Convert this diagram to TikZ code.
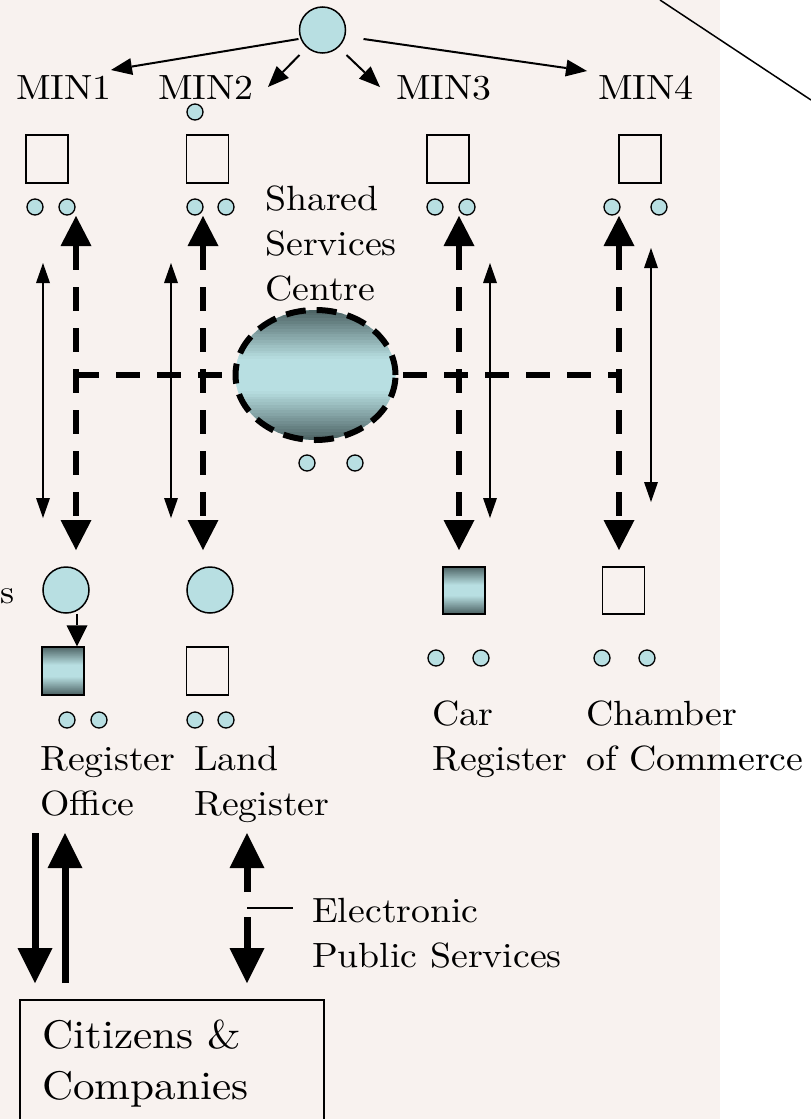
\documentclass[tikz,border=0pt]{standalone}
\usepackage{fontspec}
% the 10pt design of Latin Modern, sturdier at large sizes, set a little wider
\setmainfont{lmroman10-regular.otf}[FakeStretch=1.08]
\usetikzlibrary{arrows.meta,shapes.geometric,calc}

\definecolor{bgpink}{HTML}{F8F2EF}
\definecolor{cyanfill}{HTML}{B8DFE2}
\definecolor{slate}{HTML}{4B6162}

% two stacked lines, baseline on the first one
\newcommand\twolines[2]{\begin{tabular}[t]{@{}l@{}}#1\\#2\end{tabular}}

\begin{document}
\begin{tikzpicture}[x=1pt,y=-1pt,
  lbl/.style={anchor=base west,inner sep=0pt,font=\fontsize{35}{45}\selectfont},
  biglbl/.style={anchor=base west,inner sep=0pt,font=\fontsize{40}{51}\selectfont},
  dot/.style={circle,draw,line width=1.3pt,fill=cyanfill,minimum size=16pt,inner sep=0pt},
  roundnode/.style={circle,draw,line width=1.5pt,fill=cyanfill,minimum size=46pt,inner sep=0pt},
  plainbox/.style={rectangle,draw,line width=1.5pt,minimum width=42pt,minimum height=48pt,inner sep=0pt},
  % dark top and bottom edges around a broad light band, built from thin strips
  slatefill/.style={fill=cyanfill,path picture={
    \foreach \i in {0,...,47} {
      \pgfmathtruncatemacro\mixp{max(0,100*(1-((\i+0.5)/48)/0.38),100*(((\i+0.5)/48)-0.62)/0.38)}
      \fill[slate!\mixp!cyanfill]
        ($(path picture bounding box.north west)!{\i/48}!(path picture bounding box.south west)$)
        rectangle
        ($(path picture bounding box.north east)!{(\i+1.3)/48}!(path picture bounding box.south east)$);
    }}},
  shadedbox/.style={plainbox,slatefill},
  dashflow/.style={line width=6pt,dash pattern=on 24pt off 17pt,
    {Triangle[length=30pt,width=31pt,line width=0pt]}-{Triangle[length=30pt,width=31pt,line width=0pt]}},
  thinflow/.style={line width=1.5pt,
    {Triangle[length=20pt,width=14pt,line width=0pt]}-{Triangle[length=20pt,width=14pt,line width=0pt]}},
  toparrow/.style={line width=2pt,-{Triangle[length=21pt,width=17pt,line width=0pt]}},
  citizenflow/.style={line width=7pt,-{Triangle[length=35pt,width=35pt,line width=0pt]}},
]
\useasboundingbox (0,0) rectangle (811,1119);
\fill[bgpink] (0,0) rectangle (720,1119);

% stray line at the top right
\coordinate (diagA) at (660,0);
\coordinate (diagB) at (811,100);
\draw[line width=1.5pt] (diagA) -- (diagB);

% ministry at the top
\node[roundnode] (top) at (322.5,30) {};
\node[lbl] (min1) at (16,99) {MIN1};
\node[lbl] (min2) at (158,99) {MIN2};
\node[lbl] (min3) at (396,99) {MIN3};
\node[lbl] (min4) at (598,99) {MIN4};

\coordinate (t1) at (111,70);
\coordinate (t2) at (268,87);
\coordinate (t3) at (380,87);
\coordinate (t4) at (587,71);
\draw[toparrow] ([shift={(-24,9)}]top.center) -- (t1);
\draw[toparrow] ([shift={(-23,25)}]top.center) -- (t2);
\draw[toparrow] ([shift={(24,25)}]top.center) -- (t3);
\draw[toparrow] ([shift={(41,9)}]top.center) -- (t4);

% ministry boxes and their dots
\node[dot] (m2extra) at (195,112) {};
\node[plainbox] (b1) at (47,159) {};
\node[plainbox] (b2) at (207.5,159) {};
\node[plainbox] (b3) at (448,159) {};
\node[plainbox] (b4) at (640,159) {};
\node[dot] (d1a) at (35,207) {};
\node[dot] (d1b) at (67,207) {};
\node[dot] (d2a) at (195,207) {};
\node[dot] (d2b) at (226,207) {};
\node[dot] (d3a) at (435,207) {};
\node[dot] (d3b) at (467,207) {};
\node[dot] (d4a) at (612,207) {};
\node[dot] (d4b) at (659,207) {};

% shared services centre
\node[lbl] (ssclabel) at (265,210)
  {\begin{tabular}[t]{@{}l@{}}Shared\\Services\\Centre\end{tabular}};
\coordinate (hl) at (75,375);
\coordinate (hr) at (619,375);
\draw[line width=6pt,dash pattern=on 24pt off 17pt] (hl) -- (hr);
\node[ellipse,minimum width=160pt,minimum height=130pt,inner sep=0pt,
  slatefill] (ssc) at (315.5,375) {};
\draw[line width=6pt,dash pattern=on 20pt off 11pt]
  (ssc.center) ellipse [x radius=80pt,y radius=65pt];
\node[dot] (sa) at (307,463) {};
\node[dot] (sb) at (355,463) {};

% exchange lines between ministries and agencies
\coordinate (v1t) at (76,216);  \coordinate (v1b) at (76,550);
\coordinate (v2t) at (203,216); \coordinate (v2b) at (203,550);
\coordinate (v3t) at (459,216); \coordinate (v3b) at (459,550);
\coordinate (v4t) at (619,216); \coordinate (v4b) at (619,550);
\draw[dashflow] (v1t) -- (v1b);
\draw[dashflow] (v2t) -- (v2b);
\draw[dashflow] (v3t) -- (v3b);
\draw[dashflow] (v4t) -- (v4b);

\coordinate (w1t) at (43,263);  \coordinate (w1b) at (43,518);
\coordinate (w2t) at (171,263); \coordinate (w2b) at (171,518);
\coordinate (w3t) at (490,263); \coordinate (w3b) at (490,518);
\coordinate (w4t) at (651,248); \coordinate (w4b) at (651,502);
\draw[thinflow] (w1t) -- (w1b);
\draw[thinflow] (w2t) -- (w2b);
\draw[thinflow] (w3t) -- (w3b);
\draw[thinflow] (w4t) -- (w4b);

% agencies
\node[anchor=base west,inner sep=0pt,font=\fontsize{33}{45}\selectfont] (cut) at (0,603) {s};
\node[roundnode] (c1) at (66,590) {};
\node[roundnode] (c2) at (210,590) {};
\node[shadedbox] (q1) at (63,671) {};
\node[plainbox] (q2) at (207.5,671) {};
\node[shadedbox,minimum height=47pt] (q3) at (464,590.5) {};
\node[plainbox,minimum height=47pt] (q4) at (623.5,590.5) {};
\draw[line width=1.5pt,-{Triangle[length=21pt,width=21pt,line width=0pt]}]
  ([xshift=11pt]c1.south) -- ([xshift=11pt]c1.south |- q1.north);

\node[dot] (e1a) at (67,720) {};
\node[dot] (e1b) at (99,720) {};
\node[dot] (e2a) at (195,720) {};
\node[dot] (e2b) at (226,720) {};
\node[dot] (e3a) at (436,658) {};
\node[dot] (e3b) at (481,658) {};
\node[dot] (e4a) at (602,658) {};
\node[dot] (e4b) at (647,658) {};

\node[lbl] (reg) at (40,770) {\twolines{Register}{Office}};
\node[lbl] (land) at (194,770) {\twolines{Land}{Register}};
\node[lbl] (car) at (432,725) {\twolines{Car}{Register}};
\node[lbl] (chamber) at (586,725) {\twolines{Chamber}{of Commerce}};

% citizens and companies
\node[draw,line width=1.5pt,anchor=north west,minimum width=304pt,
  minimum height=140pt,inner sep=0pt] (citbox) at (19,999) {};
\node[biglbl] (cit) at (42,1048) {\twolines{Citizens \&}{Companies}};

\coordinate (r1t) at (35,833); \coordinate (r1b) at (35,983);
\coordinate (r2t) at (65,833); \coordinate (r2b) at (65,983);
\draw[citizenflow] (r1t) -- (r1b);
\draw[citizenflow] (r2b) -- (r2t);

\coordinate (l1) at (247,892); \coordinate (l1tip) at (247,833);
\coordinate (l2) at (247,917); \coordinate (l2tip) at (247,983);
\draw[citizenflow] (l1) -- (l1tip);
\draw[citizenflow] (l2) -- (l2tip);
\coordinate (lead) at (247,908);
\draw[line width=1.5pt] (lead) -- ++(46,0);
\node[lbl] (eps) at (312,922) {\twolines{Electronic}{Public Services}};
\end{tikzpicture}
\end{document}
